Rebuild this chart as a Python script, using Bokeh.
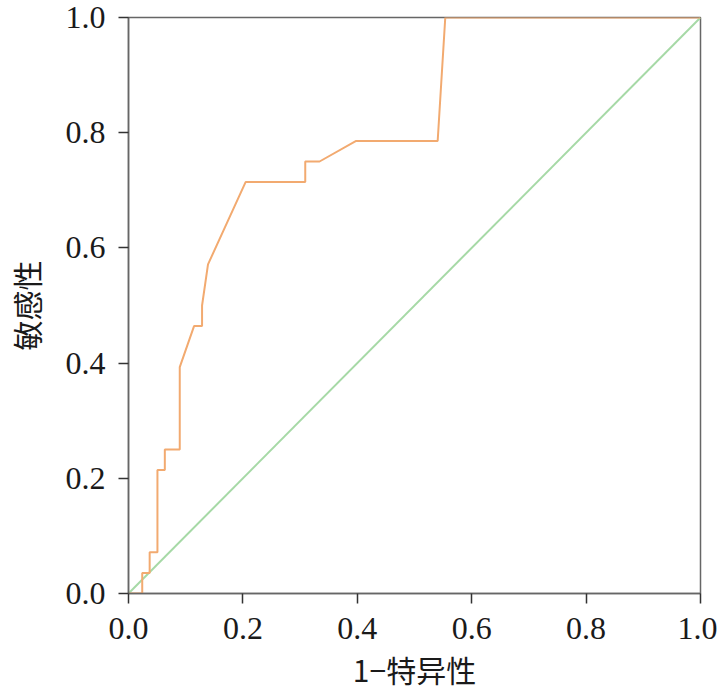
from bokeh.plotting import figure
from bokeh.embed import file_html
from bokeh.resources import INLINE
from bokeh.models import FixedTicker, Range1d

# ROC curve points (1 - specificity, sensitivity)
fpr = [0.0, 0.024, 0.024, 0.037, 0.037, 0.0506, 0.0506, 0.0635, 0.0635, 0.0896, 0.0896,
       0.1146, 0.1286, 0.1286, 0.139, 0.2047, 0.309, 0.309, 0.334, 0.398, 0.5405, 0.5538, 1.0]
tpr = [0.0, 0.0, 0.0357, 0.0357, 0.0714, 0.0714, 0.2143, 0.2143, 0.25, 0.25, 0.3929,
       0.4643, 0.4643, 0.5, 0.5714, 0.7143, 0.7143, 0.75, 0.75, 0.7857, 0.7857, 1.0, 1.0]
ref_x = [0.0, 1.0]
ref_y = [0.0, 1.0]
ticks = [0.0, 0.2, 0.4, 0.6, 0.8, 1.0]

p = figure(width=717, height=693, output_backend="svg", toolbar_location=None,
           x_range=Range1d(0, 1), y_range=Range1d(0, 1),
           min_border_left=127, min_border_right=17, min_border_top=17, min_border_bottom=100)
p.grid.visible = False
p.outline_line_color = "#666666"
p.outline_line_width = 1.5

p.line(ref_x, ref_y, line_color="#a6d9a6", line_width=2)
p.line(fpr, tpr, line_color="#f2aa70", line_width=2)

for ax in (p.xaxis[0], p.yaxis[0]):
    ax.ticker = FixedTicker(ticks=ticks)
    ax.major_label_overrides = {t: f"{t:.1f}" for t in ticks}
    ax.major_label_text_font = "Liberation Serif"
    ax.major_label_text_font_size = "32px"
    ax.major_label_text_color = "#1a1a1a"
    ax.axis_line_color = "#666666"
    ax.axis_line_width = 1.5
    ax.major_tick_line_color = "#333333"
    ax.major_tick_line_width = 1.5
    ax.major_tick_out = 10
    ax.major_tick_in = 0
    ax.minor_tick_line_color = None
    ax.axis_label_text_font = "Noto Sans CJK SC"
    ax.axis_label_text_font_size = "30px"
    ax.axis_label_text_font_style = "normal"
    ax.axis_label_text_color = "#1a1a1a"

p.xaxis.axis_label = "1\u2212特异性"
p.yaxis.axis_label = "敏感性"
p.xaxis.major_label_standoff = 14
p.yaxis.major_label_standoff = 13
p.xaxis.axis_label_standoff = 5
p.yaxis.axis_label_standoff = 15

open("out.html", "w").write(file_html(p, INLINE))
